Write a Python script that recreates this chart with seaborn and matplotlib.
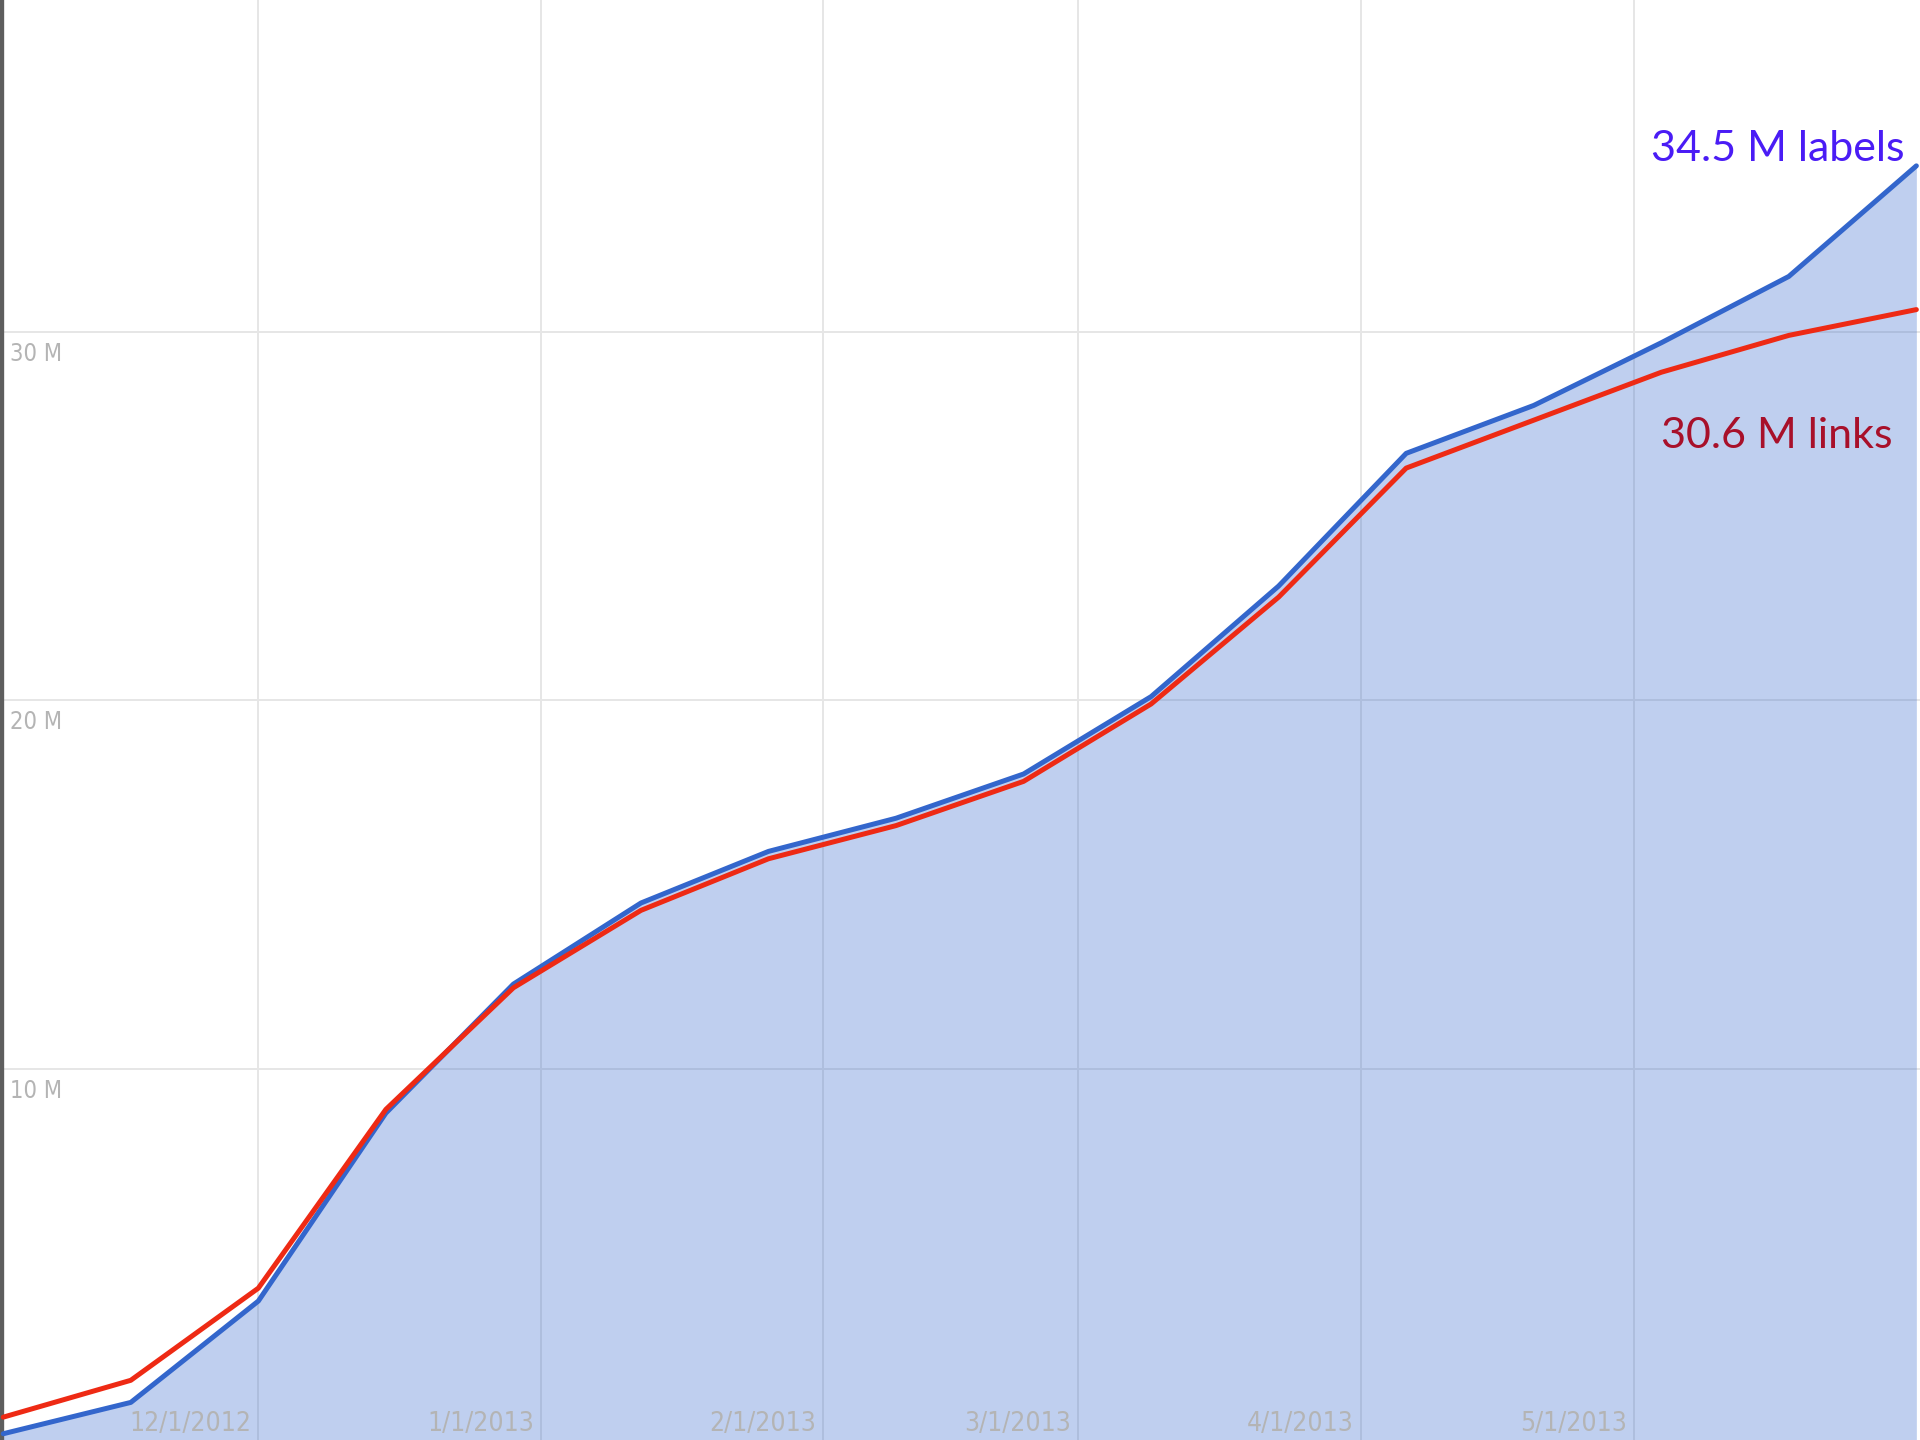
import matplotlib
matplotlib.use("Agg")
import matplotlib.pyplot as plt
import seaborn as sns
import pandas as pd
import numpy as np

# ---- data (millions) ----
dates = ["2012-11-03", "2012-11-17", "2012-12-01", "2012-12-15", "2012-12-29",
         "2013-01-12", "2013-01-26", "2013-02-09", "2013-02-23", "2013-03-09",
         "2013-03-23", "2013-04-06", "2013-04-20", "2013-05-04", "2013-05-18",
         "2013-06-01"]
labels_m = [0.1, 0.95, 3.7, 8.8, 12.3, 14.5, 15.9, 16.8, 18.0, 20.1,
            23.1, 26.7, 28.0, 29.7, 31.5, 34.5]
links_m = [0.55, 1.55, 4.05, 8.9, 12.2, 14.3, 15.7, 16.6, 17.8, 19.9,
           22.8, 26.3, 27.6, 28.9, 29.9, 30.6]
x_tick_dates = ["2012-12-01", "2013-01-01", "2013-02-01", "2013-03-01",
                "2013-04-01", "2013-05-01"]
x_tick_labels = ["12/1/2012", "1/1/2013", "2/1/2013", "3/1/2013",
                 "4/1/2013", "5/1/2013"]
y_ticks = [10, 20, 30]
y_tick_labels = ["10 M", "20 M", "30 M"]
label_text = "34.5 M labels"
links_text = "30.6 M links"

df = pd.DataFrame({"date": pd.to_datetime(dates),
                   "labels": labels_m, "links": links_m})

sns.set_theme(style="white")
plt.rcParams["font.family"] = ["DejaVu Sans"]

fig = plt.figure(figsize=(19.2, 14.4), dpi=100)
ax = fig.add_axes([0, 0, 1, 1])

BLUE = "#3366cc"
RED = "#ee2a14"

# grid
for d in x_tick_dates:
    ax.axvline(pd.Timestamp(d), color="#e6e6e6", lw=1.4, zorder=0)
for v in y_ticks:
    ax.axhline(v, color="#e6e6e6", lw=1.4, zorder=0)

ax.fill_between(df["date"], df["labels"], -1, color=BLUE, alpha=0.31,
                linewidth=0, zorder=1)
sns.lineplot(data=df, x="date", y="labels", ax=ax, color=BLUE, lw=3.6,
             zorder=3)
sns.lineplot(data=df, x="date", y="links", ax=ax, color=RED, lw=3.6,
             zorder=4)

ax.set_xlim(pd.Timestamp("2012-11-03") - pd.Timedelta(hours=8.6),
            pd.Timestamp("2013-06-01") + pd.Timedelta(hours=9.6))
ax.set_ylim(-0.07, 39.0)

ax.set_xticks([])
ax.set_yticks([])
ax.set_xlabel("")
ax.set_ylabel("")
for s in ["top", "right", "bottom"]:
    ax.spines[s].set_visible(False)
ax.spines["left"].set_color("#5e5e5e")
ax.spines["left"].set_linewidth(6)

tick_color = "#b4b4b4"
for d, t in zip(x_tick_dates, x_tick_labels):
    ax.annotate(t, xy=(pd.Timestamp(d), 0), xycoords=("data", "axes fraction"),
                xytext=(-7, 3), textcoords="offset pixels", ha="right",
                va="bottom", fontsize=19, fontstretch="condensed",
                color=tick_color)
for v, t in zip(y_ticks, y_tick_labels):
    ax.annotate(t, xy=(0, v), xycoords=("axes fraction", "data"),
                xytext=(10, -10), textcoords="offset pixels", ha="left",
                va="top", fontsize=17, fontstretch="condensed",
                color=tick_color)

last = df["date"].iloc[-1]
ax.annotate(label_text, xy=(last, labels_m[-1]), xytext=(-12, 17),
            textcoords="offset pixels", ha="right", va="center",
            fontsize=31, color="#4a1cf5", family=["Lato", "DejaVu Sans"],
            zorder=5)
ax.annotate(links_text, xy=(last, links_m[-1]), xytext=(-24, -126),
            textcoords="offset pixels", ha="right", va="center",
            fontsize=31, color="#a8102a", family=["Lato", "DejaVu Sans"],
            zorder=5)

fig.savefig("out.png", dpi=100)
